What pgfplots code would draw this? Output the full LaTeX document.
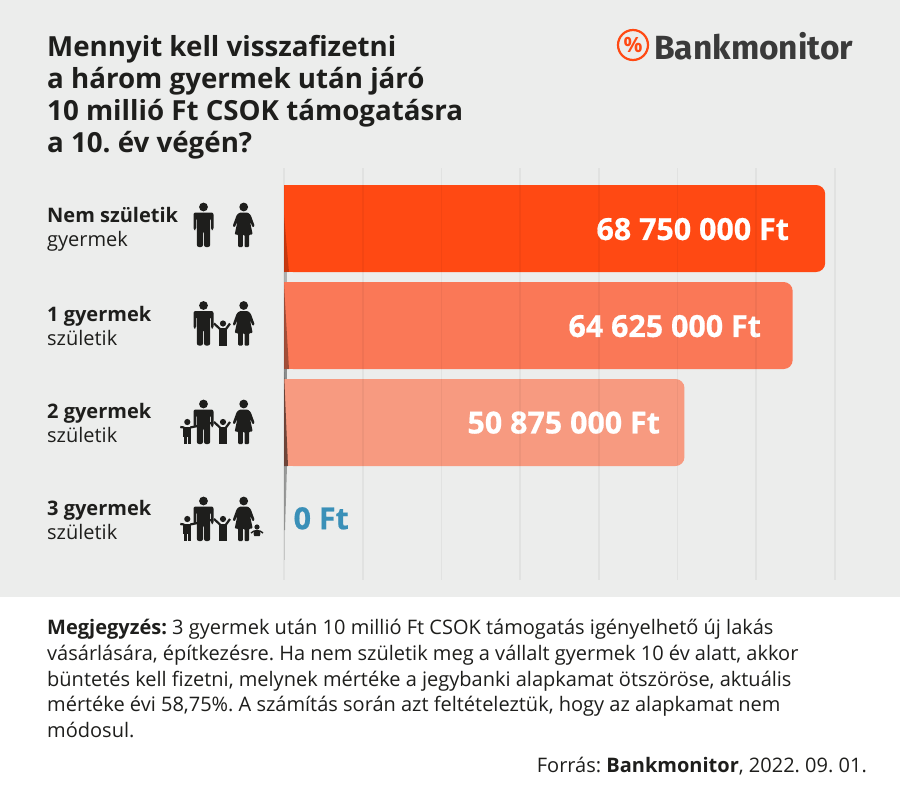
\documentclass[border=0pt]{standalone}
\usepackage{pgfplots}
\pgfplotsset{compat=1.18}
\usepackage{fontspec}
\setmainfont{Open Sans}
\newfontfamily\logofont{Fira Sans}
\newfontfamily\valfont[FakeBold=0.6]{Open Sans Bold}
\definecolor{bggrey}{HTML}{ECEDEC}
\definecolor{inkc}{HTML}{1E1E1C}
\definecolor{barA}{HTML}{FF4913}
\definecolor{barB}{HTML}{FA7857}
\definecolor{barC}{HTML}{F79A80}
\definecolor{zeroc}{HTML}{3A90B8}
\definecolor{logoc}{HTML}{3A3A3A}
% pictograms, origin at the feet
\newcommand{\man}[2]{\begin{scope}[shift={(#1,#2)},fill=inkc]
  \fill (0,-40) circle (4.4);
  \fill[rounded corners=2] (-10,-34.5) -- (10,-34.5) -- (10,-17) -- (7.5,-17) -- (7.5,-29) -- (6.6,-29) -- (6.6,0) -- (.5,0) -- (.5,-16) -- (-.5,-16) -- (-.5,0) -- (-6.6,0) -- (-6.6,-29) -- (-7.5,-29) -- (-7.5,-17) -- (-10,-17) -- cycle;
\end{scope}}
\newcommand{\woman}[2]{\begin{scope}[shift={(#1,#2)},fill=inkc]
  \fill (0,-40) circle (4.4);
  \fill[rounded corners=1] (-4,-34.5) -- (4,-34.5) -- (7,-32) -- (11,-21) -- (9,-19.5) -- (6.2,-26) -- (9,-12.5) -- (5.5,-12.5) -- (5.5,0) -- (.8,0) -- (.8,-12.5) -- (-.8,-12.5) -- (-.8,0) -- (-5.5,0) -- (-5.5,-12.5) -- (-9,-12.5) -- (-6.2,-26) -- (-9,-19.5) -- (-11,-21) -- (-7,-32) -- cycle;
\end{scope}}
% kid with arm ends given relative to feet
\newcommand{\kid}[6]{\begin{scope}[shift={(#1,#2)},fill=inkc]
  \fill (0,-22) circle (3.1);
  \fill (-4,-17.5) rectangle (4,-7);
  \fill (-3.8,-8) rectangle (-.4,0);
  \fill (.4,-8) rectangle (3.8,0);
  \draw[inkc,line width=2.2] (-3,-16.5) -- (#3,#4);
  \draw[inkc,line width=2.2] (3,-16.5) -- (#5,#6);
\end{scope}}
\newcommand{\baby}[2]{\begin{scope}[shift={(#1,#2)},fill=inkc]
  \fill (0,-14) circle (2.6);
  \fill[rounded corners=1] (-3.2,-11) -- (3.2,-11) -- (3.2,-5) -- (-3.2,-5) -- cycle;
  \draw[inkc,line width=1.4] (-3,-10) -- (-6,-8);
  \draw[inkc,line width=1.4] (3,-10) -- (6,-8);
  \draw[inkc,line width=1] (-2,-5) arc (140:220:3.4);
  \draw[inkc,line width=1] (2,-5) arc (40:-40:3.4);
\end{scope}}
\pgfplotstableread{
pos value
0 68.75
}\rowA
\pgfplotstableread{
pos value
1 64.625
}\rowB
\pgfplotstableread{
pos value
2 50.875
}\rowC
\begin{document}
\frenchspacing
\begin{tikzpicture}[x=1pt,y=-1pt]
\path[use as bounding box] (0,0) rectangle (900,796);
\fill[bggrey] (0,0) rectangle (900,597);
\fill[white] (0,597) rectangle (900,796);
\begin{axis}[
  at={(284pt,-168pt)},anchor=north west,
  scale only axis,width=551pt,height=412pt,
  xmin=0,xmax=70,ymin=-0.62371,ymax=3.6237,y dir=reverse,
  axis line style={draw=none},
  xtick={0,10,...,70},xticklabels={},ytick=\empty,
  major tick length=0pt,
  xmajorgrids,grid style={black,opacity=.045,line width=1.6pt},
  axis on top,
  xbar,bar shift=0pt,bar width=87pt,
  clip=false,
  every axis plot/.append style={draw=none},
]
\addplot[fill=barA,rounded corners=9pt] table[x=value,y=pos] {\rowA};
\addplot[fill=barB,rounded corners=9pt] table[x=value,y=pos] {\rowB};
\addplot[fill=barC,rounded corners=9pt] table[x=value,y=pos] {\rowC};
% squares the left end of each bar
\addplot[fill=barA,sharp corners] coordinates {(3,0)};
\addplot[fill=barB,sharp corners] coordinates {(3,1)};
\addplot[fill=barC,sharp corners] coordinates {(3,2)};
\node[anchor=base east,inner sep=0pt,text=white,font=\valfont\fontsize{30.4}{30.4}\selectfont] at (axis cs:64.17,0.118) {68 750 000 Ft};
\node[anchor=base east,inner sep=0pt,text=white,font=\valfont\fontsize{30.4}{30.4}\selectfont] at (axis cs:60.61,1.118) {64 625 000 Ft};
\node[anchor=base east,inner sep=0pt,text=white,font=\valfont\fontsize{30.4}{30.4}\selectfont] at (axis cs:47.78,2.113) {50 875 000 Ft};
\node[anchor=base west,inner sep=0pt,text=zeroc,font=\valfont\fontsize{30.4}{30.4}\selectfont] at (axis cs:1.2,3.10) {0 Ft};
\end{axis}
% shadow along the zero line
\fill[black,opacity=.22] (284,215) -- (289,272) -- (284,272) -- cycle;
\fill[black,opacity=.35] (284,285) -- (289,369) -- (284,369) -- cycle;
\fill[black,opacity=.55] (284,372) -- (288,466) -- (284,466) -- cycle;
\fill[black,opacity=.25] (284,272) rectangle (287,282);
\fill[black,opacity=.4] (284,369) rectangle (287,379);
\fill[black,opacity=.35] (284,466) -- (287,466) -- (285,530) -- (284,530) -- cycle;
\fill[black,opacity=.12] (284,530) -- (285,530) -- (285,560) -- (284,560) -- cycle;
% title
\begin{scope}[every node/.style={anchor=base west,inner sep=0pt,text=inkc,font=\fontsize{27.7}{27.7}\selectfont\bfseries}]
\node at (47,56) {Mennyit kell visszafizetni};
\node at (47,88) {a három gyermek után járó};
\node at (47,120) {10 millió Ft CSOK támogatásra};
\node at (47,152) {a 10. év végén?};
\end{scope}
% logo
\draw[barA,line width=2.2pt] (633,45) circle (15);
\node[text=barA,font=\fontsize{21}{21}\selectfont\bfseries,inner sep=0pt] at (633,45) {\%};
\node[anchor=base west,inner sep=0pt,text=logoc,font=\logofont\fontsize{33.5}{33.5}\selectfont\bfseries] at (654,59) {Bankmonitor};
% row labels
\begin{scope}[every node/.style={anchor=base west,inner sep=0pt,text=inkc,font=\fontsize{20}{20}\selectfont}]
\node at (47,222) {\bfseries Nem születik};
\node at (47,246) {gyermek};
\node at (47,321) {\bfseries 1 gyermek};
\node at (47,345) {születik};
\node at (47,418) {\bfseries 2 gyermek};
\node at (47,442) {születik};
\node at (47,515) {\bfseries 3 gyermek};
\node at (47,539) {születik};
\end{scope}
% pictograms
\man{203.5}{247}\woman{243.7}{247}
\man{203.5}{345.5}\woman{243.7}{345.5}\kid{223}{345.5}{-9}{-22}{7}{-22}
\man{203.5}{444}\woman{243.7}{444}\kid{223}{444}{-9}{-22}{7}{-22}\kid{187.3}{444}{-7}{-17}{24}{-21}
\man{203.5}{541}\woman{243.7}{541}\kid{223}{541}{-9}{-22}{7}{-22}\kid{187.3}{541}{-7}{-17}{24}{-21}\baby{257}{541}
% note
\begin{scope}[every node/.style={anchor=base west,inner sep=0pt,text=inkc,font=\fontsize{20}{20}\selectfont}]
\node at (47,634) {\textbf{Megjegyzés:} 3 gyermek után 10 millió Ft CSOK támogatás igényelhető új lakás};
\node at (47,660) {vásárlására, építkezésre. Ha nem születik meg a vállalt gyermek 10 év alatt, akkor};
\node at (47,686) {büntetés kell fizetni, melynek mértéke a jegybanki alapkamat ötszöröse, aktuális};
\node at (47,711.5) {mértéke évi 58,75\%. A számítás során azt feltételeztük, hogy az alapkamat nem};
\node at (47,737) {módosul.};
\node[anchor=base east] at (867,772) {Forrás: \textbf{Bankmonitor}, 2022. 09. 01.};
\end{scope}
\end{tikzpicture}
\end{document}
